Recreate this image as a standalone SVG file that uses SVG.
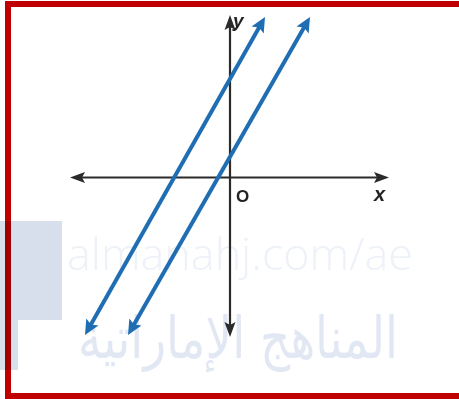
<svg xmlns="http://www.w3.org/2000/svg" width="459" height="399" viewBox="0 0 459 399">
  <style>
    .axis { stroke: #2b2b2b; stroke-width: 2.2; fill: none; }
    .line { stroke: #1f6db3; stroke-width: 4; fill: none; stroke-linecap: butt; }
    .lbl { font-family: "Liberation Sans", Arial, sans-serif; font-weight: bold; fill: #222; }
    .wm { font-family: "Open Sans", "Liberation Sans", sans-serif; font-weight: 300; fill: #edf1f8; }
    .wmar { font-family: "DejaVu Sans", sans-serif; fill: #e2e8f3; }
  </style>
  <defs>
    <marker id="axArrow" markerUnits="userSpaceOnUse" viewBox="-2 -8 20 16" markerWidth="20" markerHeight="16" refX="9" refY="0" orient="auto-start-reverse">
      <path d="M0,-5.5 L15,0 L0,5.5 L3,0 z" fill="#2b2b2b"/>
    </marker>
    <marker id="blueArrow" markerUnits="userSpaceOnUse" viewBox="-2 -9 20 18" markerWidth="20" markerHeight="18" refX="7" refY="0" orient="auto-start-reverse">
      <path d="M0,-7 L15,0 L0,7 L3,0 z" fill="#1f6db3"/>
    </marker>
  </defs>
  <rect width="459" height="399" fill="#ffffff"/>

  <!-- frame -->
  <g id="frame">
    <rect x="8" y="4" width="460" height="392" fill="none" stroke="#c00000" stroke-width="6"/>
  </g>

  <!-- watermark -->
  <g id="watermark">
    <path d="M0,221 H62 V320 H18 V370 H0 Z" fill="#d8dfec" style="mix-blend-mode:multiply"/>
    <text class="wm" x="67" y="270" font-size="44" textLength="346" lengthAdjust="spacingAndGlyphs">almanahj.com/ae</text>
    <text class="wmar" x="238" y="358" font-size="58" text-anchor="middle" textLength="320" lengthAdjust="spacingAndGlyphs">المناهج الإماراتية</text>
  </g>

  <!-- axes -->
  <g id="axes">
    <line class="axis" x1="76" y1="177.5" x2="383" y2="177.5" marker-start="url(#axArrow)" marker-end="url(#axArrow)"/>
    <line class="axis" x1="230" y1="21" x2="230" y2="331" marker-start="url(#axArrow)" marker-end="url(#axArrow)"/>
  </g>

  <!-- connectors: the two parallel lines -->
  <g id="connectors">
    <line class="line" x1="88.94" y1="328.04" x2="261.06" y2="23.96" marker-start="url(#blueArrow)" marker-end="url(#blueArrow)"/>
    <line class="line" x1="131.97" y1="328.06" x2="306.03" y2="23.94" marker-start="url(#blueArrow)" marker-end="url(#blueArrow)"/>
  </g>

  <!-- labels -->
  <g id="labels">
    <text class="lbl" x="233" y="27" font-size="19" font-style="italic">y</text>
    <text class="lbl" x="374" y="201" font-size="20" font-style="italic">x</text>
    <text class="lbl" x="236" y="202" font-size="17">O</text>
  </g>
</svg>
